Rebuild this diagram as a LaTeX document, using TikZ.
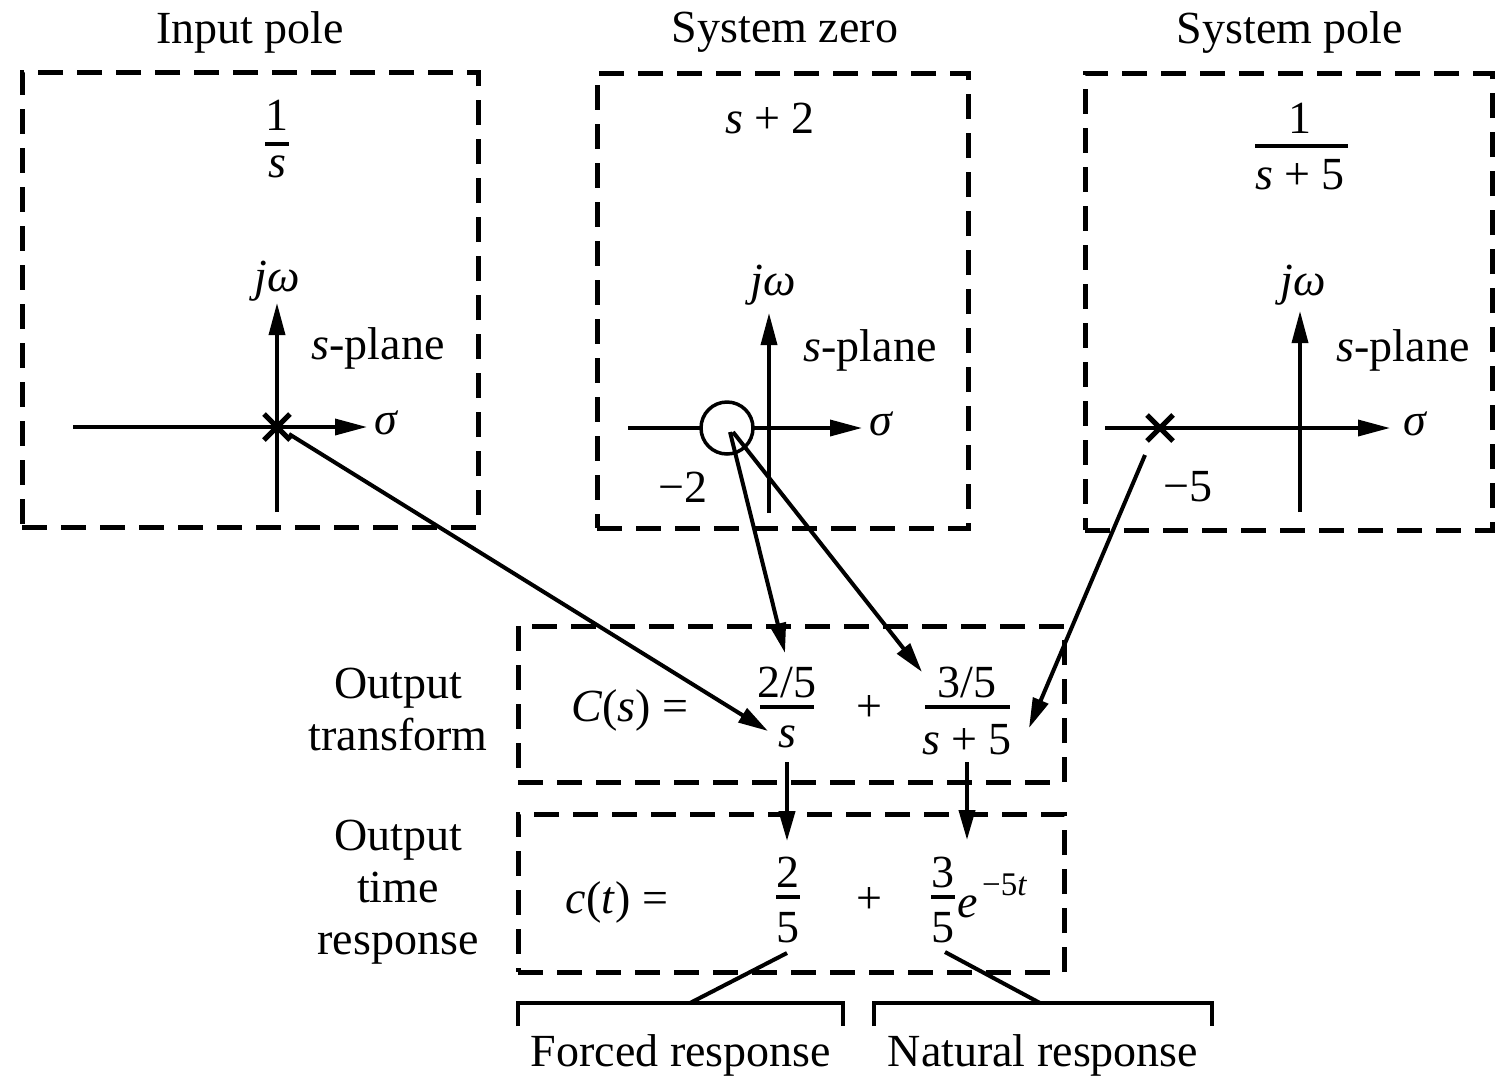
\documentclass[tikz,border=0pt]{standalone}
\usepackage{fontspec}
\setmainfont{Liberation Serif}
\usetikzlibrary{arrows.meta,calc}
\begin{document}
\begin{tikzpicture}[x=1pt,y=-1pt,
  txt/.style={inner sep=0pt,font=\fontsize{46}{52}\selectfont},
  sup/.style={inner sep=0pt,font=\fontsize{33}{35}\selectfont},
  dbox/.style={draw,line width=5pt,dash pattern=on 25pt off 14pt,inner sep=0pt},
  axis/.style={line width=3.5pt,-{Triangle[length=32pt,width=16pt]}},
  conn/.style={line width=4pt,-{Triangle[length=30pt,width=16pt]}},
  plainln/.style={line width=4pt},
  fbar/.style={line width=3.5pt},
  xmark/.style={line width=5pt}]
\fill[white] (0,0) rectangle (1509,1080);
\useasboundingbox (0,0) rectangle (1509,1080);

% titles
\node[txt] (t1) at (250,32) {Input pole};
\node[txt] (t2) at (785,32) {System zero};
\node[txt] (t3) at (1290,32) {System pole};

% dashed boxes
\node[dbox,minimum width=456pt,minimum height=455pt] (b1) at (250,299.5) {};
\node[dbox,minimum width=371pt,minimum height=455pt] (b2) at (782.5,300.5) {};
\node[dbox,minimum width=407pt,minimum height=457pt] (b3) at (1288.5,301.5) {};
\node[dbox,minimum width=546pt,minimum height=156pt] (bo) at (791,704) {};
\node[dbox,minimum width=546pt,minimum height=158pt] (bt) at (791,893) {};

% ---- box 1: input pole
\node[txt] (n1a) at (277,115) {1};
\draw[fbar] (265,144) -- (289,144);
\node[txt] (n1b) at (277,167) {\textit{s}};
\coordinate (h1l) at (73,427); \coordinate (h1r) at (367,427);
\coordinate (v1b) at (277,512); \coordinate (v1t) at (277,303);
\draw[axis] (h1l) -- (h1r);
\draw[axis] (v1b) -- (v1t);
\node[txt] (jw1) at (277,281) {\textit{jω}};
\node[txt] (sp1) at (378,348) {\textit{s}-plane};
\node[txt,anchor=west] (sg1) at (374,423) {\textit{σ}};
\coordinate (x1) at (277,427);
\draw[xmark] ($(x1)+(-13,-13)$) -- ($(x1)+(13,13)$);
\draw[xmark] ($(x1)+(-13,13)$) -- ($(x1)+(13,-13)$);

% ---- box 2: system zero
\node[txt] (n2) at (770,118) {\textit{s} + 2};
\coordinate (h2l) at (628,428); \coordinate (h2r) at (862,428);
\coordinate (v2b) at (769,513); \coordinate (v2t) at (769,313);
\draw[axis] (h2l) -- (h2r);
\draw[axis] (v2b) -- (v2t);
\node[draw,circle,fill=white,line width=3.5pt,minimum size=52pt,inner sep=0pt] (z2) at (727,428) {};
\node[txt] (jw2) at (773,285) {\textit{jω}};
\node[txt] (sp2) at (870,350) {\textit{s}-plane};
\node[txt,anchor=west] (sg2) at (869,424) {\textit{σ}};
\node[txt] (m2) at (683,487) {−2};

% ---- box 3: system pole
\node[txt] (n3a) at (1300,118) {1};
\draw[fbar] (1255,146) -- (1348,146);
\node[txt] (n3b) at (1300,175) {\textit{s} + 5};
\coordinate (h3l) at (1105,428); \coordinate (h3r) at (1390,428);
\coordinate (v3b) at (1300,512); \coordinate (v3t) at (1300,311);
\draw[axis] (h3l) -- (h3r);
\draw[axis] (v3b) -- (v3t);
\node[txt] (jw3) at (1303,285) {\textit{jω}};
\node[txt] (sp3) at (1403,350) {\textit{s}-plane};
\node[txt,anchor=west] (sg3) at (1403,424) {\textit{σ}};
\node[txt] (m5) at (1188,487) {−5};
\coordinate (x3) at (1160,428);
\draw[xmark] ($(x3)+(-13,-13)$) -- ($(x3)+(13,13)$);
\draw[xmark] ($(x3)+(-13,13)$) -- ($(x3)+(13,-13)$);

% ---- side labels
\node[txt,align=center] (lo) at (398,709) {Output\\transform};
\node[txt,align=center] (lt) at (398,892) {Output\\time\\response};

% ---- output transform
\node[txt] (cs) at (630,710) {\textit{C}(\textit{s}) =};
\node[txt] (f1n) at (787,682) {2/5};
\draw[fbar] (760,707) -- (814,707);
\node[txt] (f1d) at (787,737) {\textit{s}};
\node[txt] (pl1) at (869,708) {+};
\node[txt] (f2n) at (967,682) {3/5};
\draw[fbar] (925,707) -- (1010,707);
\node[txt] (f2d) at (967,740) {\textit{s} + 5};

% ---- output time response
\node[txt] (ct) at (617,902) {\textit{c}(\textit{t}) =};
\node[txt] (g1n) at (788,872) {2};
\draw[fbar] (776,897) -- (800,897);
\node[txt] (g1d) at (788,928) {5};
\node[txt] (pl2) at (869,900) {+};
\node[txt] (g2n) at (943,872) {3};
\draw[fbar] (931,897) -- (955,897);
\node[txt] (g2d) at (943,928) {5};
\node[txt,anchor=west] (ex) at (957,907) {\textit{e}};
\node[sup,anchor=west] (exs) at (982,885) {−5\textit{t}};

% ---- connectors
\coordinate (a1s) at (289,434); \coordinate (a1e) at (768,731);
\coordinate (a2s) at (730,432); \coordinate (a2e) at (785,653);
\coordinate (a3s) at (733,432); \coordinate (a3e) at (922,672);
\coordinate (a4s) at (1145,455); \coordinate (a4e) at (1029,728);
\draw[conn] (a1s) -- (a1e);
\draw[conn] (a2s) -- (a2e);
\draw[conn] (a3s) -- (a3e);
\draw[conn] (a4s) -- (a4e);
\coordinate (d1s) at (787,762); \coordinate (d1e) at (787,841);
\coordinate (d2s) at (967,762); \coordinate (d2e) at (967,840);
\draw[conn] (d1s) -- (d1e);
\draw[conn] (d2s) -- (d2e);

% ---- brackets
\draw[plainln] (518,1026) -- (518,1003) -- (843,1003) -- (843,1026);
\draw[plainln] (874,1026) -- (874,1003) -- (1212,1003) -- (1212,1026);
\coordinate (k1s) at (787,953); \coordinate (k1e) at (690,1003);
\coordinate (k2s) at (945,952); \coordinate (k2e) at (1040,1003);
\draw[plainln] (k1s) -- (k1e);
\draw[plainln] (k2s) -- (k2e);
\node[txt] (fr) at (681,1055) {Forced response};
\node[txt] (nr) at (1043,1055) {Natural response};
\end{tikzpicture}
\end{document}
